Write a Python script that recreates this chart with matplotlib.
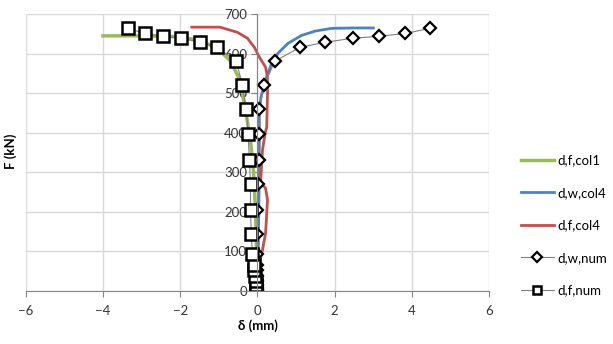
import matplotlib.pyplot as plt
import numpy as np

plt.rcParams['font.family'] = ['Lato', 'DejaVu Sans']

# d,f,col1 (green)
x_fcol1 = [-4.0, -3.0, -2.1, -1.5, -1.05, -0.71, -0.45, -0.31, -0.18, -0.1, -0.05, -0.02, 0.0]
f_fcol1 = [645, 645, 643, 634, 614, 583, 533, 457, 381, 300, 200, 80, 0]

# d,w,col4 (blue)
x_wcol4 = [0.0, 0.02, 0.04, 0.05, 0.05, 0.09, 0.21, 0.35, 0.53, 0.79, 1.14, 1.49, 1.92, 2.5, 3.0]
f_wcol4 = [0, 100, 250, 399, 457, 490, 533, 571, 601, 626, 646, 657, 664, 665, 665]

# d,f,col4 (red)
x_fcol4 = [0.0, 0.05, 0.13, 0.21, 0.26, 0.21, 0.08, 0.13, 0.2, 0.24, 0.26, 0.26, 0.21, 0.05,
           -0.08, -0.26, -0.52, -0.97, -1.7]
f_fcol4 = [0, 70, 104, 146, 230, 260, 273, 356, 400, 414, 500, 540, 566, 591,
           616, 639, 654, 667, 667]

# numerical results
f_num = [0, 3, 8, 15, 25, 38, 52, 66, 94, 144, 204, 271, 331, 396, 460, 521, 581, 616, 629, 639, 644, 651, 664]
x_wnum = [0.0, 0.0, 0.0, 0.0, 0.0, 0.0, 0.0, 0.0, 0.0, 0.0, 0.0, 0.02, 0.03, 0.03, 0.05, 0.18, 0.45,
          1.10, 1.76, 2.47, 3.15, 3.83, 4.46]
x_fnum = [-0.03, -0.03, -0.04, -0.04, -0.05, -0.06, -0.08, -0.1, -0.13, -0.16, -0.18, -0.18, -0.21,
          -0.24, -0.29, -0.39, -0.55, -1.05, -1.50, -1.97, -2.44, -2.91, -3.36]

fig = plt.figure(figsize=(6.13, 3.44), dpi=100)
ax = fig.add_axes([0.042, 0.154, 0.756, 0.805])

ax.plot(x_fcol1, f_fcol1, color='#9BBB59', lw=2.5, label='d,f,col1')
ax.plot(x_wcol4, f_wcol4, color='#4F81BD', lw=2, label='d,w,col4')
ax.plot(x_fcol4, f_fcol4, color='#C0504D', lw=2, label='d,f,col4')
ax.plot(x_wnum, f_num, color='#808080', lw=0.8, marker='D', markersize=6,
        markerfacecolor='white', markeredgecolor='black', markeredgewidth=1.6, label='d,w,num')
ax.plot(x_fnum, f_num, color='#808080', lw=0.8, marker='s', markersize=8,
        markerfacecolor='white', markeredgecolor='black', markeredgewidth=1.8, label='d,f,num')

ax.set_xlim(-6, 6)
ax.set_ylim(0, 700)
ax.set_xticks(np.arange(-6, 7, 2))
ax.set_yticks(np.arange(0, 701, 100))
ax.grid(True, color='#d9d9d9', lw=1)
ax.set_axisbelow(True)

ax.spines['left'].set_position(('data', 0))
ax.spines['right'].set_visible(False)
ax.spines['top'].set_visible(False)
ax.spines['left'].set_color('#868686')
ax.spines['bottom'].set_color('#868686')
ax.tick_params(colors='#868686', labelcolor='#333333', labelsize=9.5, length=4)
ax.tick_params(axis='x', pad=6)

ax.set_xlabel('δ (mm)', fontsize=9.5, fontweight='bold', labelpad=2)
fig.text(0.017, 0.56, 'F (kN)', rotation=90, fontsize=9.5, fontweight='bold', va='center', ha='center')

fig.legend(loc='upper left', bbox_to_anchor=(0.83, 0.585), frameon=False, fontsize=9.5,
           handlelength=2.5, labelspacing=1.55, handletextpad=0.3, markerscale=0.8)

fig.savefig('out.png', dpi=100)
